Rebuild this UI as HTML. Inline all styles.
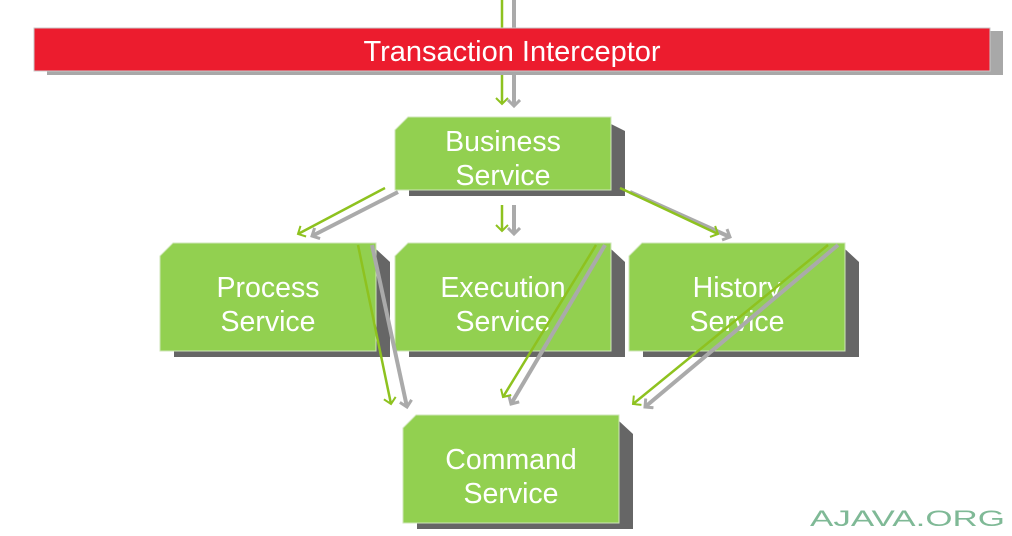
<!DOCTYPE html>
<html><head><meta charset="utf-8"><style>
html,body{margin:0;padding:0;background:#fff;width:1012px;height:536px;overflow:hidden}
text{font-family:"Liberation Sans",sans-serif;fill:#fff}
</style></head><body>
<svg width="1012" height="536" viewBox="0 0 1012 536">
<defs>
<marker id="g" markerWidth="14" markerHeight="14" refX="7" refY="7" orient="auto" markerUnits="userSpaceOnUse"><path d="M1,1 L7,7 L1,13" fill="none" stroke="#8ec21f" stroke-width="2"/></marker>
<marker id="h" markerWidth="14" markerHeight="14" refX="7" refY="7" orient="auto" markerUnits="userSpaceOnUse"><path d="M1,1 L7,7 L1,13" fill="none" stroke="#aaa" stroke-width="3"/></marker>
</defs>
<line x1="514" y1="0" x2="514" y2="106" stroke="#aaa" stroke-width="4" marker-end="url(#h)"/>
<line x1="502" y1="0" x2="502" y2="104" stroke="#8ec21f" stroke-width="2.5" marker-end="url(#g)"/>
<rect x="47" y="31" width="956" height="44" fill="#a8a8a8"/>
<rect x="34" y="28" width="956" height="43" fill="#ec1c2e" stroke="#c9c9c9" stroke-width="1"/>
<text x="512" y="61" font-size="29" text-anchor="middle">Transaction Interceptor</text>
<g font-size="28.5">
<path d="M409,124 L611,124 L625,131 L625,196 L409,196 Z" fill="#666"/>
<path d="M408,117 L611,117 L611,190 L395,190 L395,130 Z" fill="#92d050" stroke="#cfe6b8"/>
<text x="503" y="151" text-anchor="middle">Business</text>
<text x="503" y="185" text-anchor="middle">Service</text>

<path d="M174,249 L376,249 L390,262 L390,357 L174,357 Z" fill="#666"/>
<path d="M173,243 L376,243 L376,351 L160,351 L160,256 Z" fill="#92d050" stroke="#cfe6b8"/>
<text x="268" y="297" text-anchor="middle">Process</text>
<text x="268" y="331" text-anchor="middle">Service</text>

<path d="M409,249 L611,249 L625,262 L625,357 L409,357 Z" fill="#666"/>
<path d="M408,243 L611,243 L611,351 L395,351 L395,256 Z" fill="#92d050" stroke="#cfe6b8"/>
<text x="503" y="297" text-anchor="middle">Execution</text>
<text x="503" y="331" text-anchor="middle">Service</text>

<path d="M643,249 L845,249 L859,262 L859,357 L643,357 Z" fill="#666"/>
<path d="M642,243 L845,243 L845,351 L629,351 L629,256 Z" fill="#92d050" stroke="#cfe6b8"/>
<text x="737" y="297" text-anchor="middle">History</text>
<text x="737" y="331" text-anchor="middle">Service</text>

<path d="M417,421 L619,421 L633,434 L633,529 L417,529 Z" fill="#666"/>
<path d="M416,415 L619,415 L619,523 L403,523 L403,428 Z" fill="#92d050" stroke="#cfe6b8"/>
<text x="511" y="469" text-anchor="middle">Command</text>
<text x="511" y="503" text-anchor="middle">Service</text>
</g>
<g stroke="#aaa" stroke-width="4" fill="none" marker-end="url(#h)">
<line x1="398" y1="192" x2="312" y2="236"/>
<line x1="514" y1="205" x2="514" y2="234"/>
<line x1="630" y1="192" x2="730" y2="237"/>
<line x1="372" y1="245" x2="407" y2="407"/>
<line x1="605" y1="245" x2="511" y2="404"/>
<line x1="838" y1="245" x2="645" y2="407"/>
</g>
<g stroke="#8ec21f" stroke-width="2.5" fill="none" marker-end="url(#g)">
<line x1="385" y1="188" x2="298" y2="234"/>
<line x1="502" y1="205" x2="502" y2="231"/>
<line x1="620" y1="188" x2="718" y2="234"/>
<line x1="358" y1="245" x2="391" y2="404"/>
<line x1="596" y1="245" x2="503" y2="397"/>
<line x1="828" y1="245" x2="633" y2="404"/>
</g>
<text x="810" y="526" font-size="22" textLength="195" lengthAdjust="spacingAndGlyphs" style="fill:#7fb996">AJAVA.ORG</text>
</svg>
</body></html>
